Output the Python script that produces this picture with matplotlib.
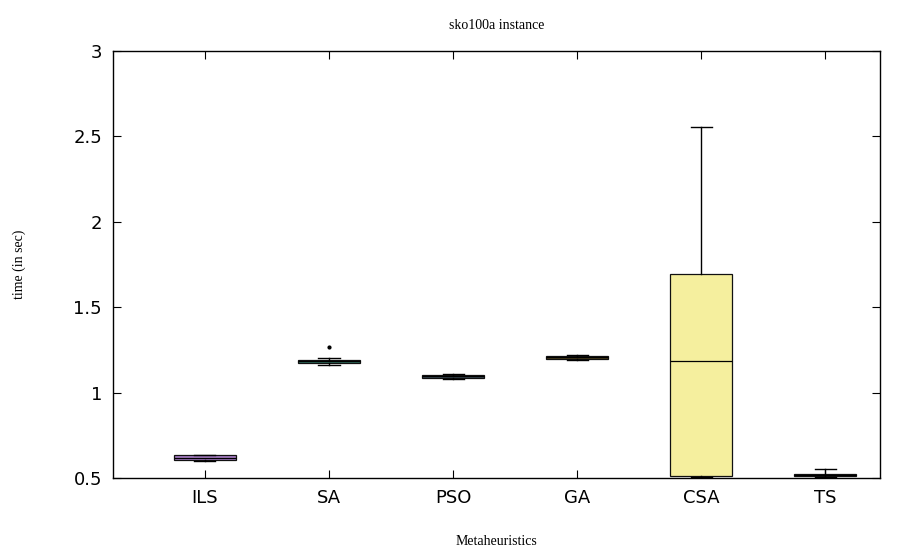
import matplotlib
matplotlib.use("Agg")
import matplotlib.pyplot as plt

categories = ["ILS", "SA", "PSO", "GA", "CSA", "TS"]
whislo = [0.598, 1.162, 1.082, 1.193, 0.503, 0.506]
q1 = [0.603, 1.174, 1.086, 1.197, 0.513, 0.509]
med = [0.617, 1.183, 1.095, 1.207, 1.185, 0.515]
q3 = [0.632, 1.192, 1.103, 1.215, 1.694, 0.522]
whishi = [0.637, 1.203, 1.106, 1.219, 2.555, 0.553]
fliers = [[], [1.265], [], [], [], []]
fill_colors = ["#a67cc4", "#2e6b5c", "#37474f", "#4a3d1c", "#f5ef9e", "#3a3a3a"]

fig = plt.figure(figsize=(9.09, 5.5), dpi=100)
ax = fig.add_axes([113/909, 72/550, (880-113)/909, (478-51)/550])

stats = []
for i, c in enumerate(categories):
    stats.append(dict(label=c, whislo=whislo[i], q1=q1[i], med=med[i],
                      q3=q3[i], whishi=whishi[i], fliers=fliers[i]))
positions = list(range(1, len(categories) + 1))
bp = ax.bxp(stats, positions=positions, widths=0.5, patch_artist=True,
            showfliers=True,
            medianprops=dict(color="black", linewidth=0.9),
            whiskerprops=dict(color="black", linewidth=1),
            capprops=dict(color="black", linewidth=1),
            flierprops=dict(marker="o", markersize=2, markerfacecolor="black",
                            markeredgecolor="black"),
            boxprops=dict(edgecolor="#111111", linewidth=0.9))
for patch, col in zip(bp["boxes"], fill_colors):
    patch.set_facecolor(col)
for cap in bp["caps"]:
    x = cap.get_xdata()
    mid = (x[0] + x[1]) / 2
    cap.set_xdata([mid - 0.085, mid + 0.085])

ax.set_xlim(0.26, 6.44)
ax.set_ylim(0.5, 3.0)
ax.set_yticks([0.5, 1, 1.5, 2, 2.5, 3])
ax.set_yticklabels(["0.5", "1", "1.5", "2", "2.5", "3"])
ax.set_xticks(positions)
ax.set_xticklabels(categories)
ax.tick_params(direction="in", top=True, right=True, length=6,
               labelsize=13, pad=8)
for s in ax.spines.values():
    s.set_linewidth(1)

serif = ["Liberation Serif", "DejaVu Serif"]
ax.set_title("sko100a instance", family=serif, fontsize=10, pad=16)
ax.set_xlabel("Metaheuristics", family=serif, fontsize=10, labelpad=20)
ax.set_ylabel("time (in sec)", family=serif, fontsize=10, labelpad=34)

fig.savefig("out.png", dpi=100)
